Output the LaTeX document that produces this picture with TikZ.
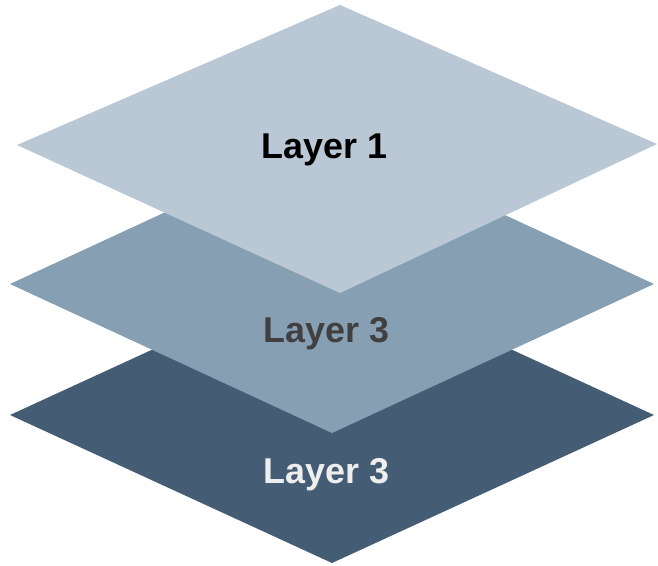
\documentclass[tikz,border=0pt]{standalone}
\usepackage{fontspec}
\setmainfont{Liberation Sans}
\definecolor{layerTop}{RGB}{185,200,212}
\definecolor{layerMid}{RGB}{134,159,179}
\definecolor{layerLow}{RGB}{68,93,117}
\definecolor{labelMid}{RGB}{64,64,64}
\definecolor{labelLow}{RGB}{238,238,238}
\begin{document}
\begin{tikzpicture}[x=1bp,y=-1bp,
  plate/.style={draw=none},
  layerlabel/.style={anchor=base,inner sep=0pt,font=\fontsize{36}{36}\selectfont\bfseries}]
\useasboundingbox (0,0) rectangle (658,566);
% stacked plates, drawn from the bottom up
\fill[plate,layerLow] (332,267) -- (654,415) -- (332,563) -- (10,415) -- cycle;
\fill[plate,layerMid] (332,135) -- (654,284) -- (332,433) -- (10,284) -- cycle;
\fill[plate,layerTop] (340,5) -- (657,144) -- (340,293) -- (17,145) -- cycle;
% labels
\node[layerlabel,text=black]    (l1) at (324.5,159) {Layer 1};
\node[layerlabel,text=labelMid] (l2) at (326.5,342) {Layer 3};
\node[layerlabel,text=labelLow] (l3) at (326.5,483) {Layer 3};
\end{tikzpicture}
\end{document}
